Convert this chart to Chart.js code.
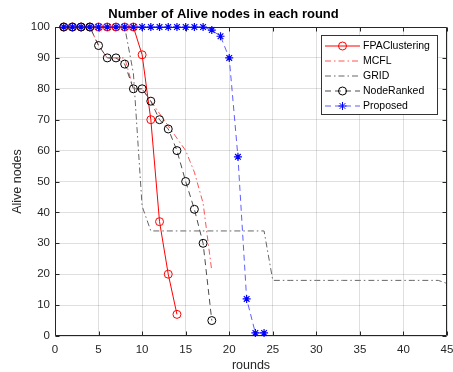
<!DOCTYPE html>
<html lang="en">
<head>
  <meta charset="UTF-8">
  <title>Alive nodes per round</title>
  <script src="https://cdn.jsdelivr.net/npm/chart.js"></script>
  <style>
    html, body { margin: 0; padding: 0; background: #fff; }
    .wrap { width: 453px; height: 372px; }
  </style>
</head>
<body>
<div class="wrap"><canvas id="aliveChart" width="453" height="372"></canvas></div>
<script>
  // alive nodes per round, first value is round 1
  const fpaClustering = [100, 100, 100, 100, 100, 100, 100, 100, 100, 91, 70, 37, 20, 7];
  const mcfl = [100, 100, 100, 100, 94, 90, 90, 90, 80, 80, 76, 72, 68, 64, 60, 53, 43, 21];
  const gridProto = [100, 100, 100, 100, 100, 100, 100, 100, 85, 42,
    34, 34, 34, 34, 34, 34, 34, 34, 34, 34, 34, 34, 34, 34,
    18, 18, 18, 18, 18, 18, 18, 18, 18, 18, 18, 18, 18, 18, 18, 18, 18, 18, 18, 18,
    17];
  const nodeRanked = [100, 100, 100, 100, 94, 90, 90, 88, 80, 80, 76, 70, 67, 60, 50, 41, 30, 5];
  const proposed = [100, 100, 100, 100, 100, 100, 100, 100, 100, 100, 100, 100, 100, 100, 100, 100, 100,
    99, 97, 90, 58, 12, 1, 1];

  const xTickStep = 5, xMax = 45;
  const yTickStep = 10, yMax = 100;

  const FONT = "'Liberation Sans', Arial, sans-serif";
  const GRID_COLOR = 'rgba(38,38,38,0.15)';

  const toPoints = arr => arr.map((v, i) => ({ x: i + 1, y: v }));

  // box around the axes with inward ticks on all four sides
  const frameBox = {
    id: 'frameBox',
    beforeDatasetsDraw(chart) {
      const { ctx, chartArea: a, scales: { x, y } } = chart;
      const L = Math.round(a.left) + 0.5, R = Math.round(a.right) - 0.5;
      const T = Math.round(a.top) + 0.5, B = Math.round(a.bottom) - 0.5;
      ctx.save();
      ctx.strokeStyle = '#262626';
      ctx.lineWidth = 1;
      ctx.beginPath();
      ctx.rect(L, T, R - L, B - T);
      x.ticks.forEach(t => {
        const px = Math.round(x.getPixelForValue(t.value)) + 0.5;
        ctx.moveTo(px, B); ctx.lineTo(px, B - 4);
        ctx.moveTo(px, T); ctx.lineTo(px, T + 4);
      });
      y.ticks.forEach(t => {
        const py = Math.round(y.getPixelForValue(t.value)) + 0.5;
        ctx.moveTo(L, py); ctx.lineTo(L + 4, py);
        ctx.moveTo(R, py); ctx.lineTo(R - 4, py);
      });
      ctx.stroke();
      ctx.restore();
    }
  };

  function drawMarker(ctx, style, cx, cy, r, color) {
    ctx.save();
    ctx.strokeStyle = color;
    ctx.lineWidth = 1;
    ctx.setLineDash([]);
    ctx.beginPath();
    if (style === 'circle') {
      ctx.arc(cx, cy, r, 0, Math.PI * 2);
    } else if (style === 'star') {
      const d = r * Math.SQRT1_2;
      ctx.moveTo(cx - r, cy); ctx.lineTo(cx + r, cy);
      ctx.moveTo(cx, cy - r); ctx.lineTo(cx, cy + r);
      ctx.moveTo(cx - d, cy - d); ctx.lineTo(cx + d, cy + d);
      ctx.moveTo(cx - d, cy + d); ctx.lineTo(cx + d, cy - d);
    }
    ctx.stroke();
    ctx.restore();
  }

  // legend box in the top right corner, line sample + marker + name
  const boxLegend = {
    id: 'boxLegend',
    afterDraw(chart) {
      const { ctx } = chart;
      const left = 321, top = 35, w = 116, h = 79;
      ctx.save();
      ctx.fillStyle = '#fff';
      ctx.fillRect(left, top, w, h);
      ctx.strokeStyle = '#333';
      ctx.lineWidth = 1;
      ctx.strokeRect(left + 0.5, top + 0.5, w, h);
      ctx.font = '10.5px ' + FONT;
      ctx.textBaseline = 'middle';
      ctx.textAlign = 'left';
      chart.data.datasets.forEach((ds, i) => {
        const cy = 46 + i * 15;
        ctx.strokeStyle = ds.borderColor;
        ctx.lineWidth = ds.borderWidth;
        ctx.setLineDash(ds.borderDash || []);
        ctx.beginPath();
        ctx.moveTo(325, cy);
        ctx.lineTo(360, cy);
        ctx.stroke();
        if (ds.pointRadius > 0) {
          drawMarker(ctx, ds.pointStyle, 342.5, cy, ds.pointRadius, ds.pointBorderColor);
        }
        ctx.fillStyle = '#000';
        ctx.fillText(ds.label, 363, cy + 0.5);
      });
      ctx.restore();
    }
  };

  const ctx = document.getElementById('aliveChart').getContext('2d');
  new Chart(ctx, {
    type: 'line',
    data: {
      datasets: [
        {
          label: 'FPAClustering', data: toPoints(fpaClustering), order: 4,
          borderColor: '#ff0000', borderWidth: 1,
          pointStyle: 'circle', pointRadius: 4, pointBorderColor: '#ff0000',
          pointBackgroundColor: 'rgba(0,0,0,0)', pointBorderWidth: 1
        },
        {
          label: 'MCFL', data: toPoints(mcfl), order: 3,
          borderColor: 'rgba(255,40,40,0.8)', borderWidth: 1, borderDash: [6, 3, 1.5, 3],
          pointRadius: 0
        },
        {
          label: 'GRID', data: toPoints(gridProto), order: 2,
          borderColor: '#666666', borderWidth: 1, borderDash: [6, 3, 1.5, 3],
          pointRadius: 0
        },
        {
          label: 'NodeRanked', data: toPoints(nodeRanked), order: 1,
          borderColor: '#4d4d4d', borderWidth: 1, borderDash: [6, 4],
          pointStyle: 'circle', pointRadius: 4, pointBorderColor: '#000000',
          pointBackgroundColor: 'rgba(0,0,0,0)', pointBorderWidth: 1
        },
        {
          label: 'Proposed', data: toPoints(proposed), order: 0,
          borderColor: 'rgba(40,40,255,0.75)', borderWidth: 1, borderDash: [6, 4],
          pointStyle: 'star', pointRadius: 4, pointBorderColor: '#0000ff',
          pointBackgroundColor: '#0000ff', pointBorderWidth: 1.2
        }
      ]
    },
    options: {
      responsive: false,
      animation: false,
      devicePixelRatio: 1,
      layout: { padding: { left: 0, right: 6, top: 0, bottom: 0 } },
      elements: { line: { tension: 0 } },
      datasets: { line: { clip: false } },
      plugins: {
        legend: { display: false },
        tooltip: { enabled: false },
        title: {
          display: true,
          text: 'Number of Alive nodes in each round',
          color: '#000',
          font: { family: FONT, size: 13, weight: 'bold' },
          padding: { top: 7, bottom: 4.4 }
        }
      },
      scales: {
        x: {
          type: 'linear', min: 0, max: xMax,
          ticks: { stepSize: xTickStep, color: '#262626', padding: 7, font: { family: FONT, size: 11.5 }, maxRotation: 0 },
          grid: { color: GRID_COLOR, drawTicks: false },
          border: { display: false },
          title: {
            display: true, text: 'rounds', color: '#262626',
            font: { family: FONT, size: 12.5, lineHeight: 1 }, padding: { top: 0, bottom: 0 }
          },
          afterFit: s => { s.height = 36; s.paddingLeft = 0; s.paddingRight = 0; }
        },
        y: {
          type: 'linear', min: 0, max: yMax,
          ticks: { stepSize: yTickStep, color: '#262626', padding: 5, font: { family: FONT, size: 11.5 } },
          grid: { color: GRID_COLOR, drawTicks: false },
          border: { display: false },
          title: {
            display: true, text: 'Alive nodes', color: '#262626',
            font: { family: FONT, size: 12.5, lineHeight: 1 }, padding: { top: 11, bottom: 0 }
          },
          afterFit: s => { s.width = 55; s.paddingTop = 0; s.paddingBottom = 0; }
        }
      }
    },
    plugins: [frameBox, boxLegend]
  });
</script>
</body>
</html>
